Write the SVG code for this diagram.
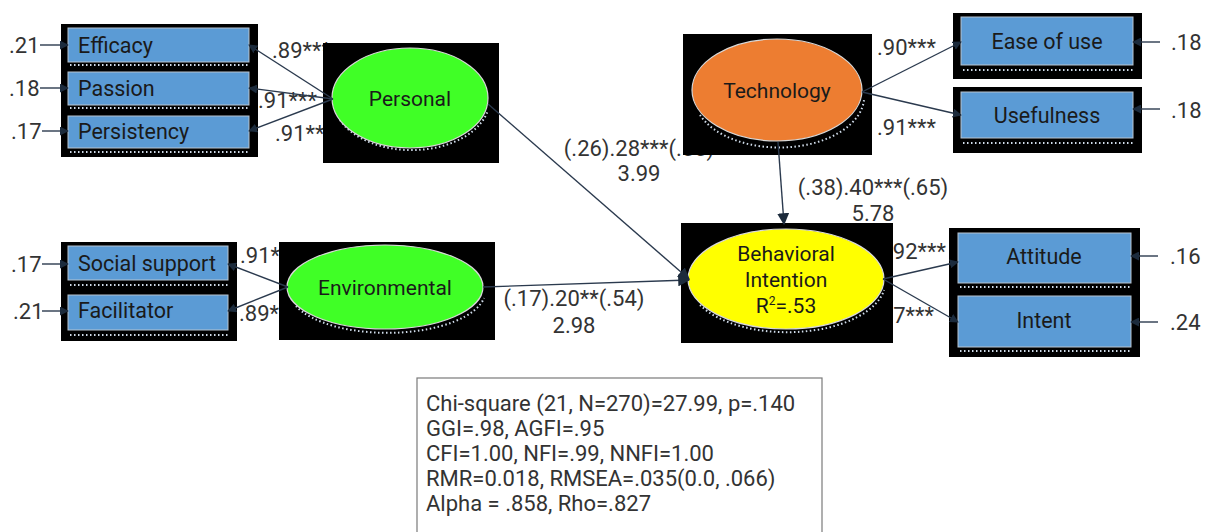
<svg xmlns="http://www.w3.org/2000/svg" width="1209" height="532" viewBox="0 0 1209 532">
  <defs>
    <marker id="arrow" viewBox="0 0 10 10" refX="9" refY="5" markerWidth="9" markerHeight="9" markerUnits="userSpaceOnUse" orient="auto">
      <path d="M0,0 L10,5 L0,10 z" fill="#1c2b3c"/>
    </marker>
    <marker id="arrowBig" viewBox="0 0 10 10" refX="9" refY="5" markerWidth="12" markerHeight="12" markerUnits="userSpaceOnUse" orient="auto">
      <path d="M0,0 L10,5 L0,10 z" fill="#1c2b3c"/>
    </marker>
  </defs>
  <style>
    text { font-family: Roboto, "Liberation Sans", sans-serif; fill: #1a1a1a; }
    .frame { fill: #000; }
    .box { fill: #5b9bd5; stroke: #b8c4d0; stroke-width: 1; }
    .dots { stroke: #d0dcea; stroke-width: 2; stroke-dasharray: 1.5 2.5; fill: none; }
    .edge { stroke: #2b3a4e; stroke-width: 1.4; fill: none; }
    .lab { font-size: 22px; fill: #333; }
    .name { font-size: 21.5px; }
    .latent { font-size: 21px; }
    .stat { font-size: 22px; fill: #333; }
    .oval { stroke: #d8d8d8; stroke-width: 1.2; }
  </style>

  <!-- path coefficients and error variances (behind the node frames) -->
  <g id="labels">
    <text class="lab" x="9" y="53">.21</text>
    <text class="lab" x="9" y="96">.18</text>
    <text class="lab" x="11" y="139">.17</text>
    <text class="lab" x="11" y="272">.17</text>
    <text class="lab" x="13" y="319">.21</text>
    <text class="lab" x="1171" y="50">.18</text>
    <text class="lab" x="1171" y="118">.18</text>
    <text class="lab" x="1170" y="264">.16</text>
    <text class="lab" x="1170" y="330">.24</text>

    <text class="lab" x="272" y="58">.89***</text>
    <text class="lab" x="258" y="108">.91***</text>
    <text class="lab" x="275" y="141">.91***</text>
    <text class="lab" x="240" y="263">.91***</text>
    <text class="lab" x="239" y="321">.89***</text>
    <text class="lab" x="877" y="55">.90***</text>
    <text class="lab" x="877" y="135">.91***</text>
    <text class="lab" x="887" y="259">.92***</text>
    <text class="lab" x="875" y="323">.87***</text>

    <text class="lab" x="639" y="156" text-anchor="middle">(.26).28***(.55)</text>
    <text class="lab" x="639" y="181" text-anchor="middle">3.99</text>
    <text class="lab" x="873" y="195" text-anchor="middle">(.38).40***(.65)</text>
    <text class="lab" x="873" y="221" text-anchor="middle">5.78</text>
    <text class="lab" x="574" y="306" text-anchor="middle">(.17).20**(.54)</text>
    <text class="lab" x="574" y="333" text-anchor="middle">2.98</text>
  </g>

  <!-- observed indicators: Personal -->
  <g id="efficacy">
    <rect class="frame" x="61" y="24" width="197" height="44"/>
    <rect class="box" x="68" y="28" width="181" height="34"/>
    <line class="dots" x1="70" y1="65" x2="250" y2="65"/>
    <text class="name" x="78" y="53">Efficacy</text>
  </g>
  <g id="passion">
    <rect class="frame" x="61" y="68" width="197" height="43"/>
    <rect class="box" x="68" y="72" width="181" height="33"/>
    <line class="dots" x1="70" y1="108" x2="250" y2="108"/>
    <text class="name" x="78" y="96">Passion</text>
  </g>
  <g id="persistency">
    <rect class="frame" x="61" y="111" width="197" height="46"/>
    <rect class="box" x="68" y="116" width="181" height="32"/>
    <line class="dots" x1="70" y1="152" x2="250" y2="152"/>
    <text class="name" x="78" y="139">Persistency</text>
  </g>

  <!-- observed indicators: Environmental -->
  <g id="social-support">
    <rect class="frame" x="61" y="242" width="176" height="50"/>
    <rect class="box" x="68" y="246" width="160" height="34"/>
    <line class="dots" x1="70" y1="285" x2="229" y2="285"/>
    <text class="name" x="78" y="271">Social support</text>
  </g>
  <g id="facilitator">
    <rect class="frame" x="61" y="292" width="176" height="49"/>
    <rect class="box" x="68" y="295" width="160" height="35"/>
    <line class="dots" x1="70" y1="335" x2="229" y2="335"/>
    <text class="name" x="78" y="318">Facilitator</text>
  </g>

  <!-- observed indicators: Technology -->
  <g id="ease-of-use">
    <rect class="frame" x="953" y="13" width="189" height="66"/>
    <rect class="box" x="961" y="17" width="172" height="48"/>
    <line class="dots" x1="963" y1="70" x2="1134" y2="70"/>
    <text class="name" x="1047" y="49" text-anchor="middle">Ease of use</text>
  </g>
  <g id="usefulness">
    <rect class="frame" x="953" y="87" width="189" height="66"/>
    <rect class="box" x="961" y="92" width="172" height="46"/>
    <line class="dots" x1="963" y1="143" x2="1134" y2="143"/>
    <text class="name" x="1047" y="123" text-anchor="middle">Usefulness</text>
  </g>

  <!-- observed indicators: Behavioral Intention -->
  <g id="attitude">
    <rect class="frame" x="949" y="228" width="191" height="65"/>
    <rect class="box" x="958" y="233" width="173" height="50"/>
    <line class="dots" x1="960" y1="287" x2="1132" y2="287"/>
    <text class="name" x="1044" y="264" text-anchor="middle">Attitude</text>
  </g>
  <g id="intent">
    <rect class="frame" x="949" y="293" width="191" height="64"/>
    <rect class="box" x="958" y="296" width="173" height="51"/>
    <line class="dots" x1="960" y1="351" x2="1132" y2="351"/>
    <text class="name" x="1044" y="328" text-anchor="middle">Intent</text>
  </g>

  <!-- latent constructs -->
  <g id="personal">
    <rect class="frame" x="323" y="43" width="176" height="120"/>
    <path class="dots" d="M340,120 A78,50 0 0 0 488,110"/>
    <ellipse class="oval" cx="410" cy="98" rx="78" ry="50" fill="#40ff26"/>
    <text class="latent" x="410" y="106" text-anchor="middle">Personal</text>
  </g>
  <g id="technology">
    <rect class="frame" x="683" y="34" width="189" height="121"/>
    <path class="dots" d="M700,115 A85,51 0 0 0 864,100"/>
    <ellipse class="oval" cx="777" cy="90" rx="85" ry="51" fill="#ed7d31"/>
    <text class="latent" x="777" y="98" text-anchor="middle">Technology</text>
  </g>
  <g id="environmental">
    <rect class="frame" x="279" y="242" width="216" height="98"/>
    <path class="dots" d="M296,306 A98,42 0 0 0 484,298"/>
    <ellipse class="oval" cx="385" cy="287" rx="98" ry="42" fill="#40ff26"/>
    <text class="latent" x="385" y="295" text-anchor="middle">Environmental</text>
  </g>
  <g id="behavioral-intention">
    <rect class="frame" x="681" y="223" width="212" height="120"/>
    <path class="dots" d="M700,305 A98,50 0 0 0 884,290"/>
    <ellipse class="oval" cx="786" cy="279" rx="98" ry="50" fill="#ffff00"/>
    <text class="latent" x="786" y="261" text-anchor="middle">Behavioral</text>
    <text class="latent" x="786" y="287" text-anchor="middle">Intention</text>
    <text class="latent" x="786" y="313" text-anchor="middle">R<tspan dy="-8" font-size="12">2</tspan><tspan dy="8">=.53</tspan></text>
  </g>

  <!-- connectors -->
  <g id="connectors">
    <!-- error terms, left -->
    <line class="edge" x1="40" y1="45" x2="68" y2="45" marker-end="url(#arrow)"/>
    <line class="edge" x1="40" y1="88" x2="68" y2="88" marker-end="url(#arrow)"/>
    <line class="edge" x1="42" y1="131" x2="68" y2="131" marker-end="url(#arrow)"/>
    <line class="edge" x1="42" y1="264" x2="68" y2="264" marker-end="url(#arrow)"/>
    <line class="edge" x1="42" y1="311" x2="68" y2="311" marker-end="url(#arrow)"/>
    <!-- error terms, right -->
    <line class="edge" x1="1160" y1="42" x2="1133" y2="42" marker-end="url(#arrow)"/>
    <line class="edge" x1="1160" y1="109" x2="1133" y2="109" marker-end="url(#arrow)"/>
    <line class="edge" x1="1158" y1="256" x2="1131" y2="256" marker-end="url(#arrow)"/>
    <line class="edge" x1="1158" y1="322" x2="1131" y2="322" marker-end="url(#arrow)"/>

    <!-- Personal loadings -->
    <line class="edge" x1="333" y1="99" x2="249" y2="45" marker-end="url(#arrow)"/>
    <line class="edge" x1="333" y1="99" x2="249" y2="88" marker-end="url(#arrow)"/>
    <line class="edge" x1="333" y1="99" x2="249" y2="131" marker-end="url(#arrow)"/>
    <!-- Environmental loadings -->
    <line class="edge" x1="288" y1="287" x2="228" y2="264" marker-end="url(#arrow)"/>
    <line class="edge" x1="288" y1="287" x2="228" y2="311" marker-end="url(#arrow)"/>
    <!-- Technology loadings -->
    <line class="edge" x1="862" y1="92" x2="961" y2="42" marker-end="url(#arrow)"/>
    <line class="edge" x1="862" y1="92" x2="961" y2="115" marker-end="url(#arrow)"/>
    <!-- Behavioral Intention loadings -->
    <line class="edge" x1="883" y1="279" x2="958" y2="262" marker-end="url(#arrow)"/>
    <line class="edge" x1="883" y1="279" x2="958" y2="322" marker-end="url(#arrow)"/>

    <!-- structural paths -->
    <line class="edge" x1="488" y1="104" x2="689" y2="279" marker-end="url(#arrowBig)"/>
    <line class="edge" x1="483" y1="287" x2="689" y2="280" marker-end="url(#arrowBig)"/>
    <line class="edge" x1="778" y1="142" x2="784" y2="224" marker-end="url(#arrowBig)"/>
  </g>

  <!-- fit statistics -->
  <g id="fit-stats">
    <rect x="417" y="378" width="405" height="170" fill="#fff" stroke="#7a7a7a" stroke-width="1.2"/>
    <text class="stat" x="426" y="411">Chi-square (21, N=270)=27.99, p=.140</text>
    <text class="stat" x="426" y="436">GGI=.98, AGFI=.95</text>
    <text class="stat" x="426" y="461">CFI=1.00, NFI=.99, NNFI=1.00</text>
    <text class="stat" x="426" y="486">RMR=0.018, RMSEA=.035(0.0, .066)</text>
    <text class="stat" x="426" y="511">Alpha = .858, Rho=.827</text>
  </g>
</svg>
